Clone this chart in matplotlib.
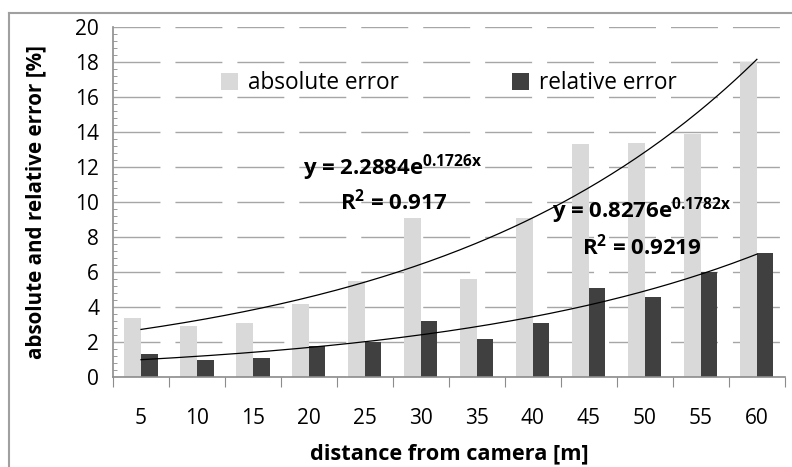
import numpy as np
import matplotlib
matplotlib.use('Agg')
import matplotlib.pyplot as plt
from matplotlib.ticker import MultipleLocator, FixedLocator, NullFormatter
from matplotlib.lines import Line2D

plt.rcParams['font.family'] = ['Open Sans', 'DejaVu Sans']
plt.rcParams['mathtext.fontset'] = 'custom'
plt.rcParams['mathtext.rm'] = 'Open Sans'
plt.rcParams['mathtext.bf'] = 'Open Sans:bold'

distance = [5, 10, 15, 20, 25, 30, 35, 40, 45, 50, 55, 60]
absolute_error = [3.4, 2.9, 3.1, 4.2, 5.5, 9.1, 5.6, 9.1, 13.3, 13.4, 13.9, 18.0]
relative_error = [1.3, 1.0, 1.1, 1.8, 2.0, 3.2, 2.2, 3.1, 5.1, 4.6, 6.0, 7.1]

# excel exponential trendlines (x = category number 1..12)
abs_fit = (2.2884, 0.1726, 0.917)
rel_fit = (0.8276, 0.1782, 0.9219)

light = '#D9D9D9'
dark = '#404040'
axis_gray = '#8C8C8C'

fig = plt.figure(figsize=(7.92, 4.67), dpi=100)
ax = fig.add_axes([0.1427, 0.1927, 0.991 - 0.1427, 0.942 - 0.1927])

x = np.arange(len(distance))
w = 0.295
ax.bar(x - w / 2, absolute_error, width=w, color=light, label='absolute error', zorder=2)
ax.bar(x + w / 2, relative_error, width=w, color=dark, label='relative error', zorder=2)

xs = np.linspace(0, len(distance) - 1, 200)
for a, b, r2 in [abs_fit, rel_fit]:
    ax.plot(xs, a * np.exp(b * (xs + 1)), color='black', lw=0.9, zorder=3)

ax.set_xlim(-0.5, len(distance) - 0.5)
ax.set_ylim(0, 20)

ax.yaxis.set_major_locator(MultipleLocator(2))
ax.yaxis.set_minor_locator(MultipleLocator(0.4))
ax.tick_params(axis='y', which='major', length=0, pad=10, labelsize=15)
ax.tick_params(axis='y', which='minor', direction='in', length=3, color=axis_gray)

ax.xaxis.set_major_locator(FixedLocator(np.arange(-0.5, len(distance), 1)))
ax.xaxis.set_major_formatter(NullFormatter())
ax.xaxis.set_minor_locator(FixedLocator(x))
ax.set_xticklabels([str(d) for d in distance], minor=True)
ax.tick_params(axis='x', which='major', direction='out', length=7, color=axis_gray)
ax.tick_params(axis='x', which='minor', length=0, pad=22, labelsize=15)

ax.grid(axis='y', which='major', color='#A6A6A6', lw=1, linestyle=(0, (33.8, 10.8)), zorder=0)
ax.set_axisbelow(True)

for s in ['top', 'right']:
    ax.spines[s].set_visible(False)
for s in ['left', 'bottom']:
    ax.spines[s].set_color(axis_gray)
    ax.spines[s].set_linewidth(1.2)

ax.set_xlabel('distance from camera [m]', fontsize=15.7, fontweight='bold', labelpad=11)
ax.set_ylabel('absolute and relative error [%]', fontsize=14.9, fontweight='bold', labelpad=21)

ax.legend(loc='upper left', bbox_to_anchor=(0.13, 0.932), ncol=2, frameon=False, fontsize=16.3,
          handlelength=0.75, handleheight=0.75, handletextpad=0.45, columnspacing=5.0)

ax.text(2.89, 11.95, 'y = 2.2884e$^{\\mathbf{0.1726x}}$', fontsize=16, fontweight='bold', va='center')
ax.text(3.55, 10.05, 'R$^{\\mathbf{2}}$ = 0.917', fontsize=16, fontweight='bold', va='center')
ax.text(7.34, 9.5, 'y = 0.8276e$^{\\mathbf{0.1782x}}$', fontsize=16, fontweight='bold', va='center')
ax.text(7.87, 7.43, 'R$^{\\mathbf{2}}$ = 0.9219', fontsize=16, fontweight='bold', va='center')

# chart frame (only top and left edges visible)
fig.add_artist(Line2D([0.011, 0.011], [0, 1 - 13 / 467], color='#A0A0A0', lw=1.5))
fig.add_artist(Line2D([0.011, 1], [1 - 13 / 467, 1 - 13 / 467], color='#A0A0A0', lw=1.5))

fig.savefig('out.png', dpi=100)
